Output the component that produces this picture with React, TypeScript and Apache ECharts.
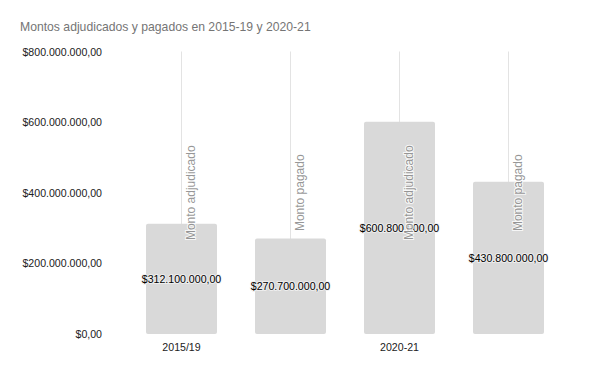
import React, { useEffect, useRef } from "react";
import * as echarts from "echarts";

const TITLE = "Montos adjudicados y pagados en 2015-19 y 2020-21";
const xLabels = ["2015/19", "", "2020-21", ""];
const seriesLabels = ["Monto adjudicado", "Monto pagado", "Monto adjudicado", "Monto pagado"];
const values = [312100000, 270700000, 600800000, 430800000];
const Y_MIN = 0;
const Y_MAX = 800000000;
const Y_INTERVAL = 200000000;
const SERIES_LABEL_VALUE = 400000000;

const FONT = 'Arial, "Liberation Sans", sans-serif';

function fmtMoney(v: number): string {
  const s = Math.round(v).toString().replace(/\B(?=(\d{3})+(?!\d))/g, ".");
  return "$" + s + ",00";
}

export default function App() {
  const ref = useRef<HTMLDivElement>(null);
  useEffect(() => {
    if (!ref.current) return;
    const chart = echarts.init(ref.current, null, { renderer: "svg" });
    chart.setOption({
      animation: false,
      backgroundColor: "#ffffff",
      title: {
        text: TITLE,
        left: 20,
        top: 20.5,
        padding: 0,
        textStyle: { fontFamily: FONT, fontSize: 12.2, fontWeight: "normal", color: "#757575" },
      },
      grid: { left: 127, right: 37, top: 51.5, bottom: 37, containLabel: false },
      xAxis: {
        type: "category",
        data: xLabels,
        axisLine: { show: false },
        axisTick: { show: false },
        splitLine: { show: false },
        axisLabel: { interval: 0, margin: 7, color: "#222", fontFamily: FONT, fontSize: 10.6 },
      },
      yAxis: {
        type: "value",
        min: Y_MIN,
        max: Y_MAX,
        interval: Y_INTERVAL,
        axisLine: { show: false },
        axisTick: { show: false },
        splitLine: { show: false },
        axisLabel: { margin: 25, color: "#222", fontFamily: FONT, fontSize: 10.6, formatter: (v: number) => fmtMoney(v) },
      },
      series: [
        {
          type: "bar",
          data: values,
          barWidth: 71,
          itemStyle: { color: "#d9d9d9", borderRadius: 2 },
          z: 3,
          label: {
            show: true,
            position: "inside",
            color: "#000",
            fontFamily: FONT,
            fontSize: 10.6,
            textBorderColor: "rgba(240,240,240,0.9)",
            textBorderWidth: 2,
            formatter: (p: any) => fmtMoney(p.value),
          },
          markLine: {
            silent: true,
            symbol: "none",
            z: 1,
            label: { show: false },
            lineStyle: { color: "#e3e3e3", width: 1, type: "solid" },
            data: xLabels.map((_, i) => ({ xAxis: i })),
          },
        },
        {
          type: "scatter",
          symbolSize: 0,
          z: 4,
          data: seriesLabels.map((_, i) => [i, SERIES_LABEL_VALUE]),
          label: {
            show: true,
            position: "inside",
            rotate: 90,
            offset: [0, 9],
            color: "#7a7a7a",
            fontFamily: FONT,
            fontSize: 12,
            textBorderColor: "#ffffff",
            textBorderWidth: 2,
            formatter: (p: any) => seriesLabels[p.dataIndex],
          },
        },
      ],
    });
    return () => chart.dispose();
  }, []);
  return <div ref={ref} style={{ position: "fixed", left: 0, top: 0, width: 600, height: 371 }} />;
}
